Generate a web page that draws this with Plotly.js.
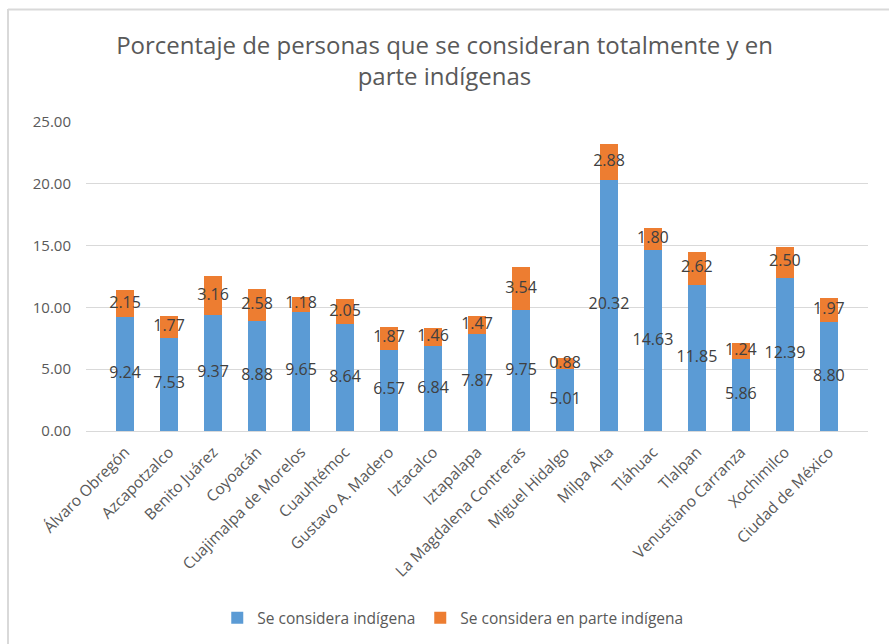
<!DOCTYPE html>
<html>
<head>
<meta charset="utf-8">
<script src="https://cdn.plot.ly/plotly-3.0.1.min.js"></script>
<style>html,body{margin:0;padding:0;background:#fff;}#chart{width:889px;height:644px;}</style>
</head>
<body>
<div id="chart"></div>
<script>
const categories = ["Álvaro Obregón","Azcapotzalco","Benito Juárez","Coyoacán","Cuajimalpa de Morelos","Cuauhtémoc","Gustavo A. Madero","Iztacalco","Iztapalapa","La Magdalena Contreras","Miguel Hidalgo","Milpa Alta","Tláhuac","Tlalpan","Venustiano Carranza","Xochimilco","Ciudad de México"];
const indigena = [9.24,7.53,9.37,8.88,9.65,8.64,6.57,6.84,7.87,9.75,5.01,20.32,14.63,11.85,5.86,12.39,8.80];
const enParte = [2.15,1.77,3.16,2.58,1.18,2.05,1.87,1.46,1.47,3.54,0.88,2.88,1.80,2.62,1.24,2.50,1.97];
const seriesNames = ["Se considera indígena","Se considera en parte indígena"];
const yTicks = [0,5,10,15,20,25];

const blue = "#5B9BD5", orange = "#ED7D31", labelColor = "#404040", axisText = "#595959";
const font = "Open Sans, Liberation Sans, sans-serif";

const traces = [
  {type:"bar", name:seriesNames[0], x:categories, y:indigena, marker:{color:blue}, hoverinfo:"skip"},
  {type:"bar", name:seriesNames[1], x:categories, y:enParte, marker:{color:orange}, hoverinfo:"skip"},
  {type:"scatter", mode:"text", x:categories, y:indigena.map(v=>v/2), text:indigena.map(v=>v.toFixed(2)),
   textposition:"middle center", textfont:{family:font,size:16,color:labelColor}, showlegend:false, hoverinfo:"skip", cliponaxis:false},
  {type:"scatter", mode:"text", x:categories, y:enParte.map((v,i)=>indigena[i]+v/2), text:enParte.map(v=>v.toFixed(2)),
   textposition:"middle center", textfont:{family:font,size:16,color:labelColor}, showlegend:false, hoverinfo:"skip", cliponaxis:false}
];

const layout = {
  width:889, height:644,
  margin:{l:86, r:21, t:122, b:213},
  paper_bgcolor:"#fff", plot_bgcolor:"#fff",
  barmode:"stack", bargap:0.6,
  font:{family:font, color:axisText},
  title:{text:"Porcentaje de personas que se consideran totalmente y en<br>parte indígenas",
         font:{family:font, size:24, color:axisText}, x:0.5, xanchor:"center", y:0.916, yanchor:"middle", yref:"container"},
  xaxis:{type:"category", tickangle:-45, tickfont:{size:15.5, color:axisText}, showgrid:false,
         showline:true, linecolor:"#d9d9d9", linewidth:1, ticks:"", fixedrange:true, ticklabelstandoff:5},
  yaxis:{range:[0,25], tickvals:yTicks, ticktext:yTicks.map(v=>v.toFixed(2)), tickfont:{size:15, color:axisText},
         showgrid:true, gridcolor:"#d9d9d9", gridwidth:1, zeroline:true, zerolinecolor:"#d9d9d9",
         showline:false, ticks:"", ticklabelstandoff:14, fixedrange:true},
  legend:{orientation:"h", x:0.469, xanchor:"center", y:0.04, yanchor:"middle", yref:"container",
          font:{size:15.5, color:axisText}, itemwidth:30, traceorder:"normal"},
  shapes:[
    {type:"line", xref:"paper", yref:"paper", x0:(8-86)/782, x1:(8-86)/782, y0:(431-9)/309, y1:(431-650)/309, line:{color:"#d9d9d9", width:2}},
    {type:"line", xref:"paper", yref:"paper", x0:(8-86)/782, x1:(895-86)/782, y0:(431-9.5)/309, y1:(431-9.5)/309, line:{color:"#d9d9d9", width:2}}
  ],
  showlegend:true
};

Plotly.newPlot("chart", traces, layout, {displayModeBar:false, staticPlot:true});
</script>
</body>
</html>
